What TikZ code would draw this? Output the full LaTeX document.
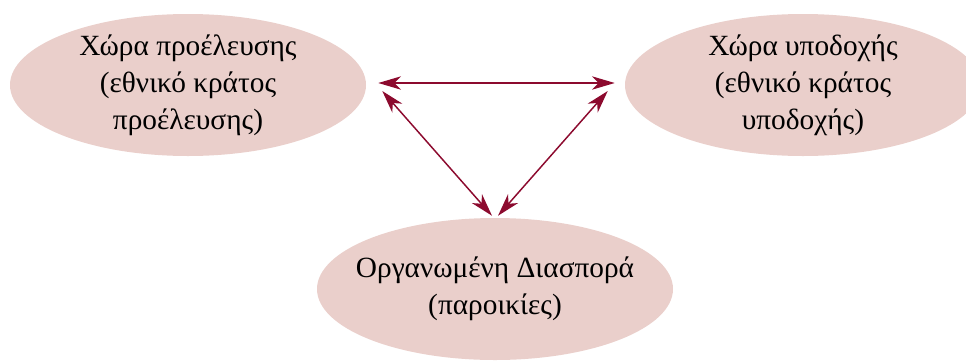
\documentclass[tikz,border=0pt]{standalone}
\usepackage{fontspec}
\setmainfont{Liberation Serif}
\usetikzlibrary{arrows.meta,shapes.geometric}
\definecolor{petal}{HTML}{EACFCB}
\definecolor{wine}{HTML}{8C0A2E}

\begin{document}
\begin{tikzpicture}[x=0.75pt,y=-0.75pt,>={Stealth[length=17pt,width=10pt,inset=5pt]},every node/.style={ellipse,fill=petal,inner sep=-40pt,align=center,minimum width=356pt*0.75,minimum height=142pt*0.75,font=\fontsize{22}{27.75}\selectfont}]
    \useasboundingbox (0,0) rectangle (966,361);
    \node (home) at (188,85) {Χώρα προέλευσης\\(εθνικό κράτος\\προέλευσης)};
    \node (host) at (803,85) {Χώρα υποδοχής\\(εθνικό κράτος\\υποδοχής)};
    \node (dia) at (495,289) {Οργανωμένη Διασπορά\\(παροικίες)};
    \draw[<->,wine,line width=1.1pt] ([shift={(12,-2)}]home.east)--([shift={(-10,-2)}]host.west);
    \draw[<->,wine,line width=1.1pt] ([shift={(16,6)}]home.east)--([shift={(-3,-2)}]dia.north);
    \draw[<->,wine,line width=1.1pt] ([shift={(-17,6)}]host.west)--([shift={(3,-2)}]dia.north);
  \end{tikzpicture}
\end{document}
